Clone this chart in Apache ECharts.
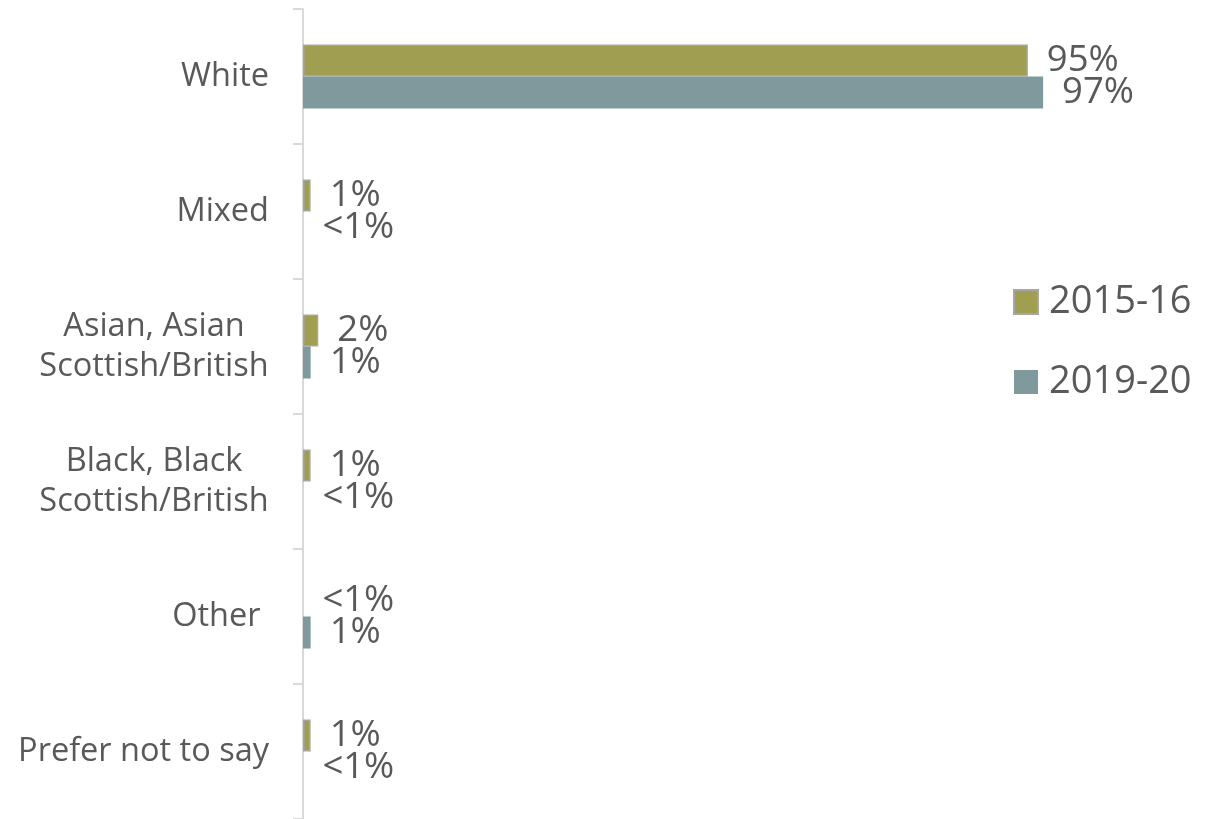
<!DOCTYPE html>
<html>
<head>
<meta charset="utf-8">
<script src="https://cdn.jsdelivr.net/npm/echarts@6/dist/echarts.min.js"></script>
<style>
  html, body { margin: 0; padding: 0; background: #fff; }
  #chart { width: 1217px; height: 819px; }
</style>
</head>
<body>
<div id="chart"></div>
<script>
var categories = ['White', 'Mixed', 'Asian, Asian\nScottish/British', 'Black, Black\nScottish/British', 'Other ', 'Prefer not to say'];
var seriesNames = ['2015-16', '2019-20'];
var values2015 = [95, 1, 2, 1, 0.05, 1];
var values2019 = [97, 0.05, 1, 0.05, 1, 0.05];
var labels2015 = ['95%', '1%', '2%', '1%', '<1%', '1%'];
var labels2019 = ['97%', '<1%', '1%', '<1%', '1%', '<1%'];

var textColor = '#595959';
var fontName = 'Open Sans';

var chart = echarts.init(document.getElementById('chart'));

function labelFor(texts) {
  return {
    show: true,
    position: 'right',
    distance: 19,
    color: textColor,
    fontFamily: fontName,
    fontSize: 36.5,
    formatter: function (p) { return texts[p.dataIndex]; }
  };
}

// bars under 1% are too thin to show in the original; keep the label, drop the fill/border
function barData(vals) {
  return vals.map(function (v) {
    return v < 0.5 ? { value: v, itemStyle: { color: 'rgba(0,0,0,0)', borderWidth: 0 } } : v;
  });
}

var option = {
  animation: false,
  backgroundColor: '#fff',
  color: ['#a09e50', '#7f999c'],
  legend: {
    orient: 'vertical',
    left: 1013,
    top: 282,
    padding: 0,
    itemWidth: 24,
    itemHeight: 24,
    itemGap: 40,
    icon: 'rect',
    textStyle: {
      color: textColor,
      fontFamily: fontName,
      fontSize: 38,
      lineHeight: 40,
      padding: [0, 0, 0, 6]
    },
    data: seriesNames
  },
  grid: {
    left: 303,
    right: 151,
    top: 9,
    bottom: 0,
    containLabel: false
  },
  xAxis: {
    type: 'value',
    min: 0,
    max: 100,
    show: false
  },
  yAxis: {
    type: 'category',
    inverse: true,
    data: categories,
    axisLine: { show: true, lineStyle: { color: '#d9d9d9', width: 2 } },
    axisTick: { show: true, length: 10, lineStyle: { color: '#d9d9d9', width: 2 } },
    axisLabel: {
      margin: 34,
      color: textColor,
      fontFamily: fontName,
      fontSize: 32.5,
      lineHeight: 40,
      formatter: function (v) {
        if (v.indexOf('\n') < 0) return v;
        return v.split('\n').map(function (l) { return '{c|' + l + '}'; }).join('\n');
      },
      rich: {
        c: {
          width: 230,
          align: 'center',
          color: textColor,
          fontFamily: fontName,
          fontSize: 32.5,
          lineHeight: 40
        }
      }
    }
  },
  series: [
    {
      name: seriesNames[0],
      type: 'bar',
      barWidth: 32,
      barGap: '0%',
      itemStyle: { borderColor: '#a6a6a6', borderWidth: 1.5 },
      label: labelFor(labels2015),
      data: barData(values2015)
    },
    {
      name: seriesNames[1],
      type: 'bar',
      barWidth: 32,
      barGap: '0%',
      label: labelFor(labels2019),
      data: barData(values2019)
    }
  ]
};

chart.setOption(option);
</script>
</body>
</html>
